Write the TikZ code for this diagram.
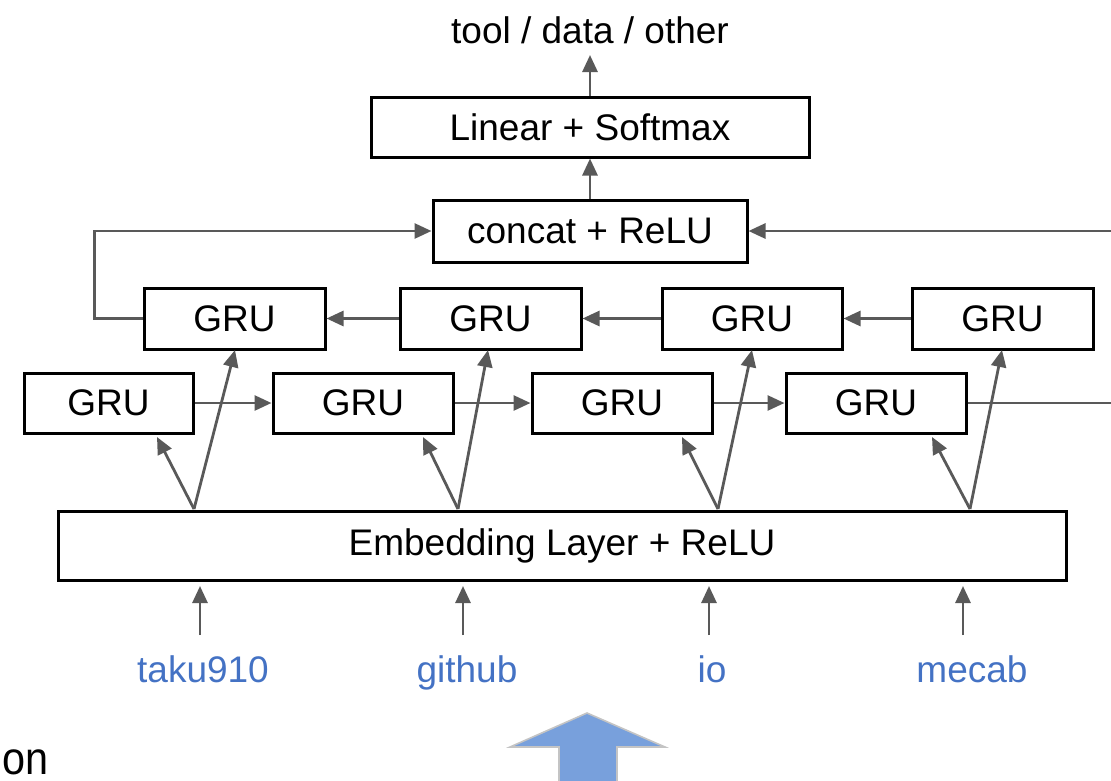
\documentclass[tikz,border=0pt]{standalone}
\usepackage{fontspec}
\setmainfont{Liberation Sans}
\usetikzlibrary{arrows.meta,calc}
\definecolor{lg}{HTML}{595959}
\definecolor{tb}{HTML}{4472C4}
\definecolor{af}{HTML}{78A0DC}
\definecolor{ab}{HTML}{C4C4C4}
\tikzset{
  box/.style={draw=black, line width=3pt, inner sep=0pt, font=\fontsize{37}{44}\selectfont},
  conn/.style={draw=lg, line width=2.8pt, -{Triangle[length=17pt,width=15pt]}},
  plain/.style={draw=lg, line width=2.8pt},
  word/.style={text=tb, anchor=base, font=\fontsize{37}{44}\selectfont},
}
\begin{document}
\begin{tikzpicture}[x=1pt,y=-1pt]
\useasboundingbox (0,0) rectangle (1111,780);
% top label
\node[anchor=base, font=\fontsize{37}{44}\selectfont] (out) at (590,43) {tool / data / other};
\coordinate (outtip) at (590,55);
% boxes
\node[box, minimum width=438pt, minimum height=60pt] (lin) at (590,127) {Linear + Softmax};
\node[box, minimum width=314pt, minimum height=62pt] (cat) at (590,231) {concat + ReLU};
\node[box, minimum width=181pt, minimum height=61pt] (U1) at (234.5,318.5) {GRU};
\node[box, minimum width=181pt, minimum height=61pt] (U2) at (490.5,318.5) {GRU};
\node[box, minimum width=180pt, minimum height=61pt] (U3) at (752,318.5) {GRU};
\node[box, minimum width=181pt, minimum height=61pt] (U4) at (1002.5,318.5) {GRU};
\node[box, minimum width=169pt, minimum height=60pt] (L1) at (108.5,403) {GRU};
\node[box, minimum width=180pt, minimum height=60pt] (L2) at (363,403) {GRU};
\node[box, minimum width=180pt, minimum height=60pt] (L3) at (622,403) {GRU};
\node[box, minimum width=180pt, minimum height=60pt] (L4) at (876,403) {GRU};
\node[box, minimum width=1008pt, minimum height=69pt] (emb) at (562,545.5) {Embedding Layer + ReLU};
% top connectors
\draw[conn] (lin.north) -- (outtip);
\draw[conn] (cat.north) -- (lin.south);
\draw[conn] (U1.west) -- ++(-48,0) |- (cat.west);
\coordinate (rin) at (1111,231);
\draw[conn] (rin) -- (cat.east);
% upper row (right to left)
\draw[conn] (U2.west) -- (U1.east);
\draw[conn] (U3.west) -- (U2.east);
\draw[conn] (U4.west) -- (U3.east);
% lower row (left to right)
\draw[conn] (L1.east) -- (L2.west);
\draw[conn] (L2.east) -- (L3.west);
\draw[conn] (L3.east) -- (L4.west);
\coordinate (rout) at (1111,403);
\draw[plain] (L4.east) -- (rout);
% junctions and fan-out
\coordinate (J1) at (194,509);
\coordinate (J2) at (458,509);
\coordinate (J3) at (718,509);
\coordinate (J4) at (970,509);
\coordinate (lt1) at (157,437);
\coordinate (lt2) at (423,437);
\coordinate (lt3) at (682,437);
\coordinate (lt4) at (932,437);
\coordinate (ut1) at (235,350);
\coordinate (ut2) at (488,350);
\coordinate (ut3) at (752,350);
\coordinate (ut4) at (1002,350);
\foreach \i in {1,2,3,4}{
  \draw[conn] (J\i) -- (lt\i);
  \draw[conn] (J\i) -- (ut\i);
}
% input words
\node[word] (w1) at (203,682) {taku910};
\node[word] (w2) at (467,682) {github};
\node[word] (w3) at (712,682) {io};
\node[word] (w4) at (972,682) {mecab};
\coordinate (s1) at (200,635); \coordinate (e1) at (200,586);
\coordinate (s2) at (463,635); \coordinate (e2) at (463,586);
\coordinate (s3) at (709,635); \coordinate (e3) at (709,586);
\coordinate (s4) at (963,635); \coordinate (e4) at (963,586);
\foreach \i in {1,2,3,4}{
  \draw[conn] (s\i) -- (e\i);
}
% big block arrow
\draw[fill=af, draw=ab, line width=1.6pt, line join=miter]
  (587,713) -- (665,747) -- (617,747) -- (617,790) -- (559,790) -- (559,747) -- (510,747) -- cycle;
% partial word bottom-left
\node[anchor=base west, inner sep=0pt] (on) at (2,774) {\fontsize{46}{50}\selectfont\scalebox{0.9}[1]{on}};
\end{tikzpicture}
\end{document}
